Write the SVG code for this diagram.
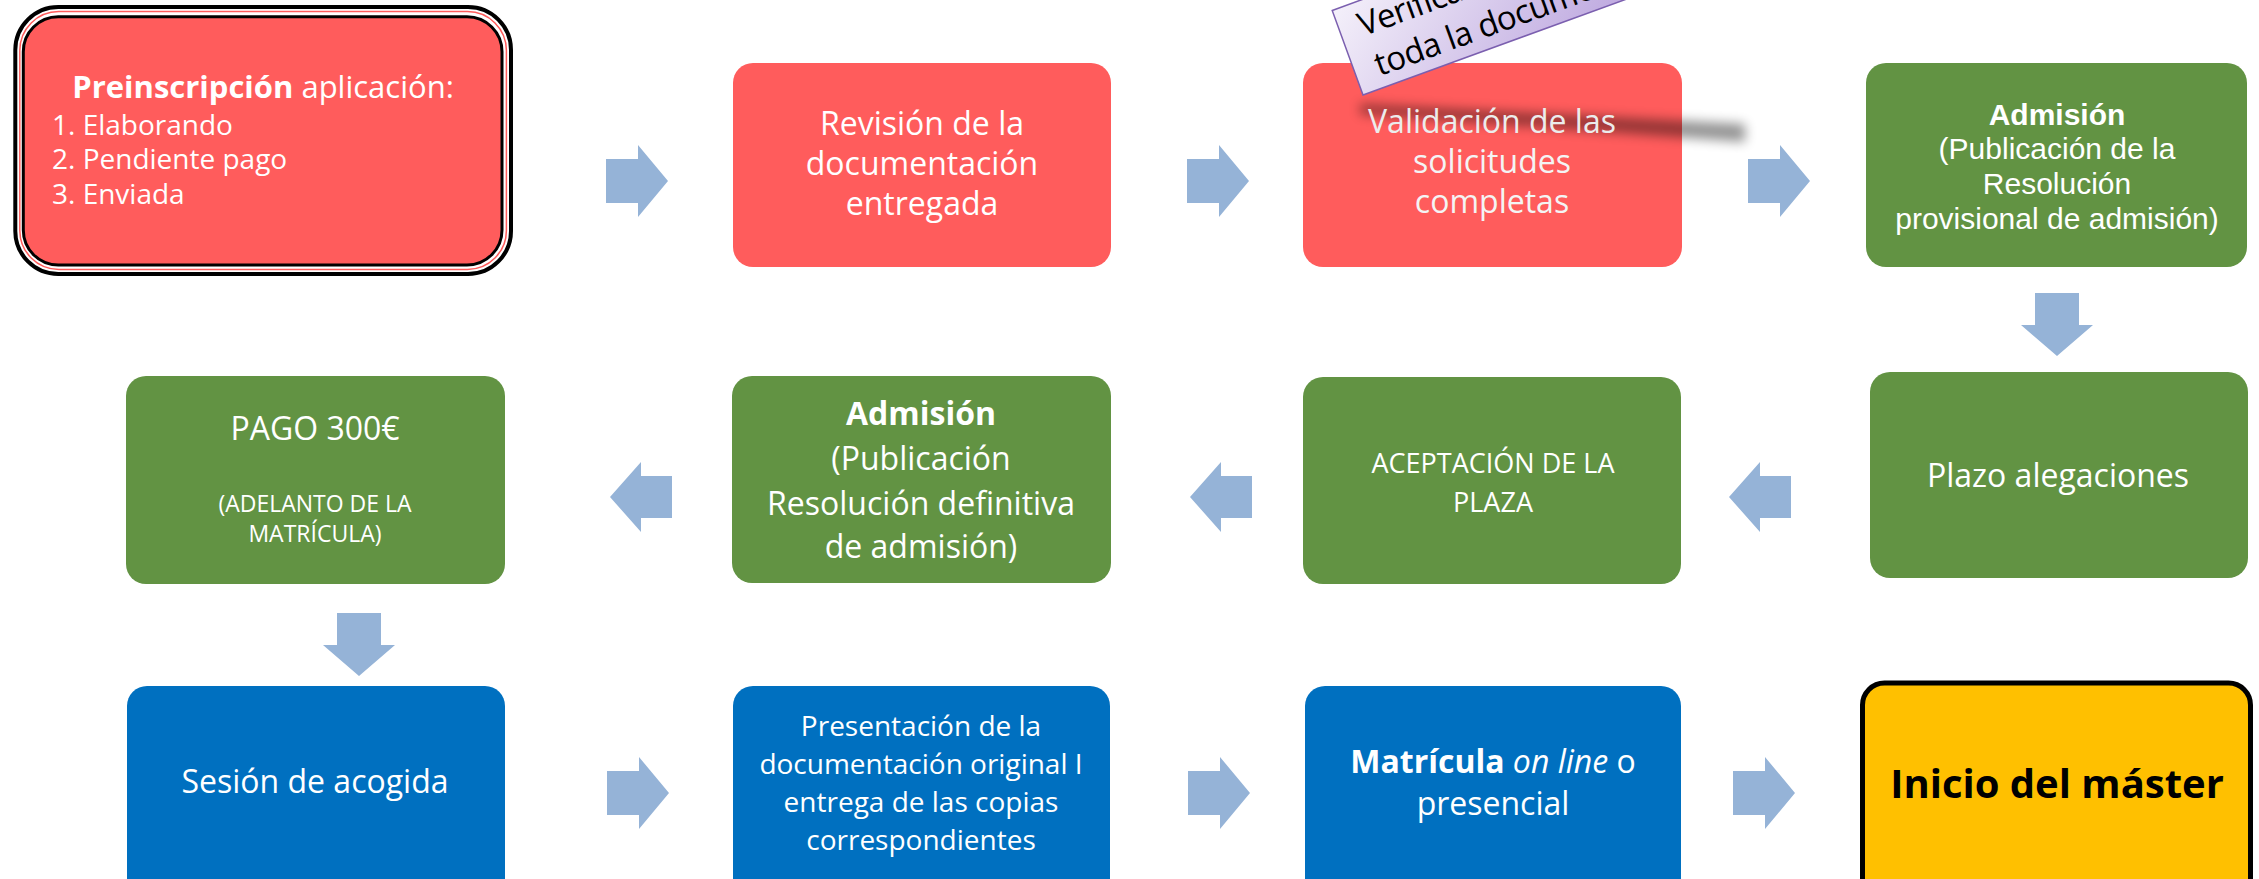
<svg xmlns="http://www.w3.org/2000/svg" width="2259" height="879" viewBox="0 0 2259 879">
<style>
.red{fill:#FF5C5C}
.green{fill:#629343}
.blue{fill:#0070C0}
.arrow{fill:#95B3D7}
.t{font-family:"Open Sans","Noto Sans",sans-serif;fill:#FFFFFF;text-anchor:middle}
.a{font-family:"Liberation Sans",Arial,sans-serif;fill:#FFFFFF;text-anchor:middle}
.n{font-family:"Open Sans","Noto Sans",sans-serif;fill:#000000;font-size:33px;letter-spacing:-0.6px}
</style>
<defs>
<path id="ar" d="M0,-22 H32 V-36 L62,0 L32,36 V22 H0 Z"/>
<path id="al" d="M0,0 L31,-35 V-21 H62 V21 H31 V35 Z"/>
<path id="ad" d="M-22,0 H22 V32 H36 L0,63 L-36,32 H-22 Z"/>
<linearGradient id="lav" x1="0" y1="0" x2="1" y2="0.3">
<stop offset="0" stop-color="#F4F0FA"/>
<stop offset="1" stop-color="#B9A2DD"/>
</linearGradient>
<filter id="blur" x="-20%" y="-200%" width="140%" height="500%">
<feGaussianBlur stdDeviation="6"/>
</filter>
</defs>
<rect width="2259" height="879" fill="#FFFFFF"/>

<g id="connectors" class="arrow">
<use href="#ar" transform="translate(606,181)"/>
<use href="#ar" transform="translate(1187,181)"/>
<use href="#ar" transform="translate(1748,181)"/>
<use href="#ad" transform="translate(2057,293)"/>
<use href="#al" transform="translate(1729,497)"/>
<use href="#al" transform="translate(1190,497)"/>
<use href="#al" transform="translate(610,497)"/>
<use href="#ad" transform="translate(359,613)"/>
<use href="#ar" transform="translate(607,793)"/>
<use href="#ar" transform="translate(1188,793)"/>
<use href="#ar" transform="translate(1733,793)"/>
</g>

<g id="n1">
<rect x="15.3" y="7" width="495.7" height="267" rx="43" fill="#FFFFFF" stroke="#000000" stroke-width="4"/>
<rect x="19.8" y="11.6" width="486.6" height="257.8" rx="39" fill="none" stroke="#FF5C5C" stroke-width="1.5"/>
<rect x="23.3" y="16.7" width="478.7" height="248.3" rx="35" class="red" stroke="#000000" stroke-width="3"/>
<text class="t" x="263" y="98" font-size="31"><tspan font-weight="bold">Preinscripción</tspan> aplicación:</text>
<text class="t" x="52" y="135" font-size="28" style="text-anchor:start">1. Elaborando</text>
<text class="t" x="52" y="169" font-size="28" style="text-anchor:start">2. Pendiente pago</text>
<text class="t" x="52" y="204" font-size="28" style="text-anchor:start">3. Enviada</text>
</g>

<g id="n2">
<rect x="733" y="63" width="378" height="204" rx="20" class="red"/>
<text class="t" x="922" y="135" font-size="32">Revisión de la</text>
<text class="t" x="922" y="175" font-size="32">documentación</text>
<text class="t" x="922" y="215" font-size="32">entregada</text>
</g>

<g id="n3">
<rect x="1303" y="63" width="379" height="204" rx="20" class="red"/>
<path d="M1360,104 L1745,124 L1745,142 L1360,114 Z" fill="#000000" opacity="0.42" filter="url(#blur)"/>
<text class="t" x="1492" y="133" font-size="32" style="fill:#ECECEC">Validación de las</text>
<text class="t" x="1492" y="173" font-size="32" style="fill:#F4F4F4">solicitudes</text>
<text class="t" x="1492" y="213" font-size="32" style="fill:#F4F4F4">completas</text>
</g>

<g id="note" transform="translate(1363,95) rotate(-20)">
<rect x="0" y="-90" width="410" height="90" fill="url(#lav)" stroke="#7B5FAF" stroke-width="1.5"/>
<text class="n" x="20" y="-55">Verificación de</text>
<text class="n" x="22" y="-12">toda la documentación</text>
</g>

<g id="n4">
<rect x="1866" y="63" width="381" height="204" rx="20" class="green"/>
<text class="a" x="2057" y="125" font-size="30" font-weight="bold">Admisión</text>
<text class="a" x="2057" y="159" font-size="30">(Publicación de la</text>
<text class="a" x="2057" y="194" font-size="30">Resolución</text>
<text class="a" x="2057" y="229" font-size="30">provisional de admisión)</text>
</g>

<g id="n5">
<rect x="1870" y="372" width="378" height="206" rx="20" class="green"/>
<text class="t" x="2058" y="487" font-size="32">Plazo alegaciones</text>
</g>

<g id="n6">
<rect x="1303" y="377" width="378" height="207" rx="20" class="green"/>
<text class="t" x="1493" y="473" font-size="27">ACEPTACIÓN DE LA</text>
<text class="t" x="1493" y="512" font-size="27">PLAZA</text>
</g>

<g id="n7">
<rect x="732" y="376" width="379" height="207" rx="20" class="green"/>
<text class="t" x="921" y="425" font-size="32" font-weight="bold">Admisión</text>
<text class="t" x="921" y="470" font-size="32">(Publicación</text>
<text class="t" x="921" y="515" font-size="32">Resolución definitiva</text>
<text class="t" x="921" y="558" font-size="32">de admisión)</text>
</g>

<g id="n8">
<rect x="126" y="376" width="379" height="208" rx="20" class="green"/>
<text class="t" x="315" y="440" font-size="32">PAGO 300€</text>
<text class="t" x="315" y="512" font-size="23">(ADELANTO DE LA</text>
<text class="t" x="315" y="542" font-size="23">MATRÍCULA)</text>
</g>

<g id="n9">
<rect x="127" y="686" width="378" height="230" rx="20" class="blue"/>
<text class="t" x="315" y="793" font-size="32">Sesión de acogida</text>
</g>

<g id="n10">
<rect x="733" y="686" width="377" height="230" rx="20" class="blue"/>
<text class="t" x="921" y="736" font-size="28">Presentación de la</text>
<text class="t" x="921" y="774" font-size="28">documentación original I</text>
<text class="t" x="921" y="812" font-size="28">entrega de las copias</text>
<text class="t" x="921" y="850" font-size="28">correspondientes</text>
</g>

<g id="n11">
<rect x="1305" y="686" width="376" height="230" rx="20" class="blue"/>
<text class="t" x="1493" y="773" font-size="32"><tspan font-weight="bold">Matrícula</tspan> <tspan font-style="italic">on line</tspan> o</text>
<text class="t" x="1493" y="815" font-size="32">presencial</text>
</g>

<g id="n12">
<rect x="1862.5" y="683" width="388" height="230" rx="22" fill="#FFC000" stroke="#000000" stroke-width="5"/>
<text x="2057" y="798" font-family="Open Sans, Noto Sans, sans-serif" font-size="40" font-weight="bold" fill="#000000" text-anchor="middle">Inicio del máster</text>
</g>
</svg>
